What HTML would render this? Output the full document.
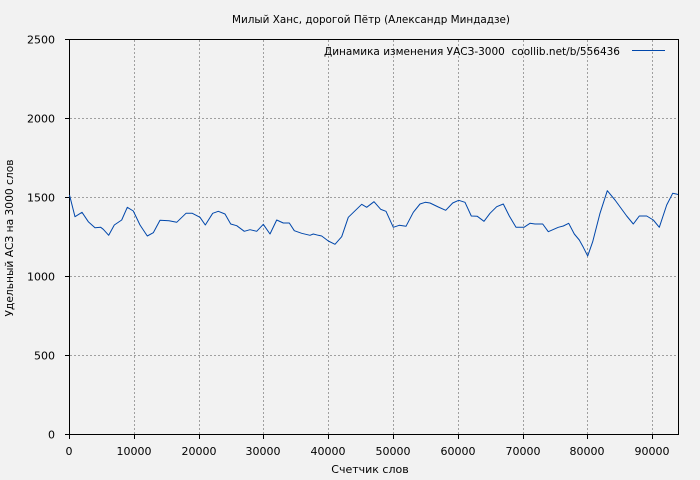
<!DOCTYPE html>
<html><head><meta charset="utf-8"><style>
html,body{margin:0;padding:0;background:#f2f2f2;}
svg{display:block;}
text{font-family:"DejaVu Sans","Liberation Sans",sans-serif;font-size:11px;fill:#000;}
</style></head><body>
<svg width="700" height="480" viewBox="0 0 700 480" xmlns="http://www.w3.org/2000/svg">
<rect width="700" height="480" fill="#f2f2f2"/>
<g stroke="#a0a0a0" stroke-width="1" stroke-dasharray="2,2" fill="none">
<line x1="134.5" y1="40" x2="134.5" y2="434"/>
<line x1="199.5" y1="40" x2="199.5" y2="434"/>
<line x1="263.5" y1="40" x2="263.5" y2="434"/>
<line x1="328.5" y1="40" x2="328.5" y2="434"/>
<line x1="393.5" y1="40" x2="393.5" y2="434"/>
<line x1="458.5" y1="40" x2="458.5" y2="434"/>
<line x1="523.5" y1="40" x2="523.5" y2="434"/>
<line x1="587.5" y1="40" x2="587.5" y2="434"/>
<line x1="652.5" y1="40" x2="652.5" y2="434"/>
<line x1="70" y1="118.5" x2="678" y2="118.5"/>
<line x1="70" y1="197.5" x2="678" y2="197.5"/>
<line x1="70" y1="276.5" x2="678" y2="276.5"/>
<line x1="70" y1="355.5" x2="678" y2="355.5"/>
</g>
<g stroke="#000" stroke-width="1">
<line x1="65" y1="39.5" x2="69" y2="39.5"/>
<line x1="65" y1="118.5" x2="69" y2="118.5"/>
<line x1="65" y1="197.5" x2="69" y2="197.5"/>
<line x1="65" y1="276.5" x2="69" y2="276.5"/>
<line x1="65" y1="355.5" x2="69" y2="355.5"/>
<line x1="65" y1="434.5" x2="69" y2="434.5"/>
<line x1="69.5" y1="435" x2="69.5" y2="439"/>
<line x1="134.5" y1="435" x2="134.5" y2="439"/>
<line x1="199.5" y1="435" x2="199.5" y2="439"/>
<line x1="263.5" y1="435" x2="263.5" y2="439"/>
<line x1="328.5" y1="435" x2="328.5" y2="439"/>
<line x1="393.5" y1="435" x2="393.5" y2="439"/>
<line x1="458.5" y1="435" x2="458.5" y2="439"/>
<line x1="523.5" y1="435" x2="523.5" y2="439"/>
<line x1="587.5" y1="435" x2="587.5" y2="439"/>
<line x1="652.5" y1="435" x2="652.5" y2="439"/>
</g>
<rect x="69.5" y="39.5" width="609" height="395" fill="none" stroke="#000" stroke-width="1"/>
<polyline fill="none" stroke="#0047ab" stroke-width="1" stroke-linejoin="round" points="
69.5,195 75,216.7 82,212.3 88.3,221.7 95,227.7 100.7,227.3 103.3,229.3 108.7,235.3 114.3,225 121.7,220 127.3,207.3 133.3,211 140,225 147.3,236 153.3,232.7 160,220.3 169,220.7 176.7,222.3 186,213.3 192.3,213.3 200,217.3 205.3,225 212.7,213.3 218.3,211.3 225,214 230.7,224 236.7,225.7 244.3,231.3 250,229.7 256.7,231.3 263.3,224.3 270,234 276.7,220 283.3,223 289.3,223 294.3,230.7 301.7,233.3 310,235.3 313.3,234 318.3,235.3 321.7,236 328.3,241 335,244.3 341.7,236.7 348.3,217.3 361.7,204.3 366.7,207.3 374,201.7 380.7,209.3 386,211.3 393.3,227.3 399.3,225.3 406,226.3 413.3,212.3 420,204 425.3,202.3 430,203 438.3,207 445.7,210.3 452.7,203 458.7,200.3 465,202.3 471.3,216 477.3,216.3 484,221.3 490,213.3 496.7,206.7 503.3,204 509.3,216 516,227.3 524,227.3 530,223.3 535,224 542.7,224 548.3,231.7 558.3,227.3 563.3,226 568.7,223.3 574.3,234 579.3,240 583.3,247.3 587.7,256 592.7,241.7 600,213.3 607.3,190.7 615,200 626.7,216 633.3,224 639.3,216 646.7,216 653.3,220 659.3,227.3 666.7,205 672.7,193.3 677.3,194.3 678,194.5"/>
<g text-anchor="end">
<text x="55" y="43.5">2500</text>
<text x="55" y="122.5">2000</text>
<text x="55" y="201.5">1500</text>
<text x="55" y="280.5">1000</text>
<text x="55" y="359.5">500</text>
<text x="55" y="438.5">0</text>
</g>
<g text-anchor="middle">
<text x="69" y="455">0</text>
<text x="134" y="455">10000</text>
<text x="199" y="455">20000</text>
<text x="263" y="455">30000</text>
<text x="328" y="455">40000</text>
<text x="393" y="455">50000</text>
<text x="458" y="455">60000</text>
<text x="523" y="455">70000</text>
<text x="587" y="455">80000</text>
<text x="652" y="455">90000</text>
<text x="371" y="23" textLength="278" lengthAdjust="spacingAndGlyphs">Милый Ханс, дорогой Пётр (Александр Миндадзе)</text>
<text x="370" y="473">Счетчик слов</text>
<text transform="translate(13,238) rotate(-90)" textLength="157" lengthAdjust="spacingAndGlyphs">Удельный АСЗ на 3000 слов</text>
</g>
<text x="620" y="55" text-anchor="end" textLength="296" lengthAdjust="spacingAndGlyphs">Динамика изменения УАСЗ-3000&#160; coollib.net/b/556436</text>
<line x1="632" y1="50.5" x2="665" y2="50.5" stroke="#0047ab" stroke-width="1"/>
</svg>
</body></html>
